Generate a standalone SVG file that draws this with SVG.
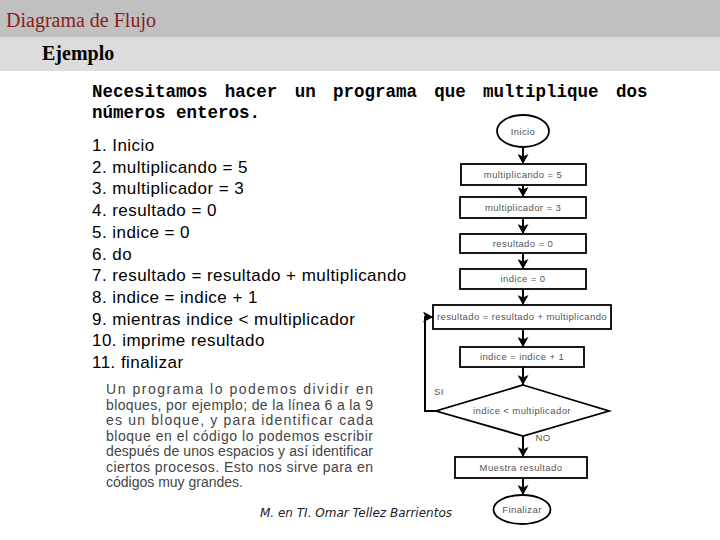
<svg xmlns="http://www.w3.org/2000/svg" width="720" height="540" viewBox="0 0 720 540">
<style>
.title{font-family:"Liberation Serif",serif;font-size:20px;fill:#8a1c1c}
.sub{font-family:"Liberation Serif",serif;font-size:20px;font-weight:bold;fill:#000}
.mono{font-family:"Liberation Mono",monospace;font-size:17.5px;font-weight:bold;fill:#000}
.list{font-family:"Liberation Sans",Arial,sans-serif;font-size:17px;letter-spacing:0.45px;fill:#000}
.para{font-family:"Liberation Sans",Arial,sans-serif;font-size:14px;fill:#444}
.foot{font-family:"DejaVu Sans",sans-serif;font-size:12px;font-style:italic;fill:#222}
.shape{fill:#fff;stroke:#000;stroke-width:1.8}
.lbl{font-family:"Liberation Sans",Arial,sans-serif;font-size:9.5px;letter-spacing:0.4px;fill:#555;text-anchor:middle}
.edge{fill:none;stroke:#000;stroke-width:2}
</style>
<defs>
<marker id="ah" markerUnits="userSpaceOnUse" markerWidth="11" markerHeight="11" refX="10" refY="5.5" orient="auto">
<path d="M0,0 L10,5.5 L0,11 L2.5,5.5 z" fill="#000"/>
</marker>
</defs>
<rect x="0" y="0" width="720" height="37" fill="#c0c0c0"/>
<rect x="0" y="37" width="720" height="34" fill="#dcdcdc"/>
<text class="title" x="6" y="26.5">Diagrama de Flujo</text>
<text class="sub" x="42" y="60">Ejemplo</text>
<text class="mono" x="92" y="97" word-spacing="6.8">Necesitamos hacer un programa que multiplique dos</text>
<text class="mono" x="92" y="118">números enteros.</text>
<g class="list">
<text x="92" y="151">1. Inicio</text>
<text x="92" y="172.7">2. multiplicando = 5</text>
<text x="92" y="194.4">3. multiplicador = 3</text>
<text x="92" y="216.1">4. resultado = 0</text>
<text x="92" y="237.8">5. indice = 0</text>
<text x="92" y="259.5">6. do</text>
<text x="92" y="281.2">7. resultado = resultado + multiplicando</text>
<text x="92" y="302.9">8. indice = indice + 1</text>
<text x="92" y="324.6">9. mientras indice &lt; multiplicador</text>
<text x="92" y="346.3">10. imprime resultado</text>
<text x="92" y="368">11. finalizar</text>
</g>
<g class="para">
<text x="106" y="394" textLength="267" lengthAdjust="spacing">Un programa lo podemos dividir en</text>
<text x="106" y="409.5" textLength="267" lengthAdjust="spacing">bloques, por ejemplo; de la línea 6 a la 9</text>
<text x="106" y="425" textLength="267" lengthAdjust="spacing">es un bloque, y para identificar cada</text>
<text x="106" y="440.5" textLength="267" lengthAdjust="spacing">bloque en el código lo podemos escribir</text>
<text x="106" y="456" textLength="267" lengthAdjust="spacing">después de unos espacios y así identificar</text>
<text x="106" y="471.5" textLength="267" lengthAdjust="spacing">ciertos procesos. Esto nos sirve para en</text>
<text x="106" y="487">códigos muy grandes.</text>
</g>
<text class="foot" x="260" y="517">M. en TI. Omar Tellez Barrientos</text>
<g id="connectors">
<line class="edge" x1="523" y1="147" x2="523" y2="164" marker-end="url(#ah)"/>
<line class="edge" x1="523" y1="185" x2="523" y2="197" marker-end="url(#ah)"/>
<line class="edge" x1="523" y1="218" x2="523" y2="234" marker-end="url(#ah)"/>
<line class="edge" x1="523" y1="253" x2="523" y2="269" marker-end="url(#ah)"/>
<line class="edge" x1="523" y1="289" x2="523" y2="305" marker-end="url(#ah)"/>
<line class="edge" x1="523" y1="329" x2="523" y2="347" marker-end="url(#ah)"/>
<line class="edge" x1="523" y1="367" x2="523" y2="385" marker-end="url(#ah)"/>
<line class="edge" x1="523" y1="436" x2="523" y2="457" marker-end="url(#ah)"/>
<line class="edge" x1="523" y1="478" x2="523" y2="495" marker-end="url(#ah)"/>
<polyline class="edge" points="436,411 425,411 425,317 433,317" marker-end="url(#ah)"/>
<text class="lbl" x="439" y="395">SI</text>
<text class="lbl" x="543" y="441">NO</text>
</g>
<g id="inicio"><ellipse class="shape" cx="523" cy="131" rx="26" ry="16"/><text class="lbl" x="523" y="134.5">Inicio</text></g>
<g id="n1"><rect class="shape" x="461" y="164" width="125" height="21"/><text class="lbl" x="523" y="178">multiplicando = 5</text></g>
<g id="n2"><rect class="shape" x="460" y="197" width="126" height="21"/><text class="lbl" x="523" y="211">multiplicador = 3</text></g>
<g id="n3"><rect class="shape" x="460" y="234" width="126" height="19"/><text class="lbl" x="523" y="246.5">resultado = 0</text></g>
<g id="n4"><rect class="shape" x="460" y="269" width="126" height="20"/><text class="lbl" x="523" y="282">indice = 0</text></g>
<g id="n5"><rect class="shape" x="433" y="305" width="178" height="24"/><text class="lbl" x="522" y="320">resultado = resultado + multiplicando</text></g>
<g id="n6"><rect class="shape" x="460" y="347" width="124" height="20"/><text class="lbl" x="522" y="360">indice = indice + 1</text></g>
<g id="dec"><polygon class="shape" points="523,385 609,411 523,436 436,411"/><text class="lbl" x="522" y="414">indice &lt; multiplicador</text></g>
<g id="n7"><rect class="shape" x="455" y="457" width="132" height="21"/><text class="lbl" x="521" y="471">Muestra resultado</text></g>
<g id="fin"><ellipse class="shape" cx="522" cy="509.5" rx="28.5" ry="14.5"/><text class="lbl" x="522" y="513">Finalizar</text></g>
</svg>
